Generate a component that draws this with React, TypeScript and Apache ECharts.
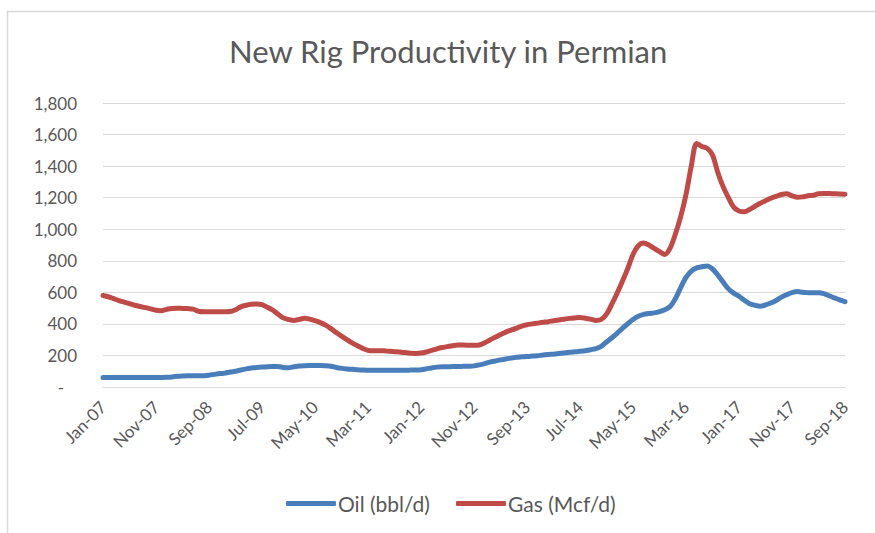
import React, { useEffect, useRef } from "react";
import * as echarts from "echarts";

const MONTHS = ["Jan", "Feb", "Mar", "Apr", "May", "Jun", "Jul", "Aug", "Sep", "Oct", "Nov", "Dec"];
const START_YEAR = 2007;
const MONTH_COUNT = 141; // Jan-07 .. Sep-18

const categories: string[] = [];
for (let i = 0; i < MONTH_COUNT; i++) {
  const m = i % 12;
  const y = START_YEAR + Math.floor(i / 12);
  categories.push(`${MONTHS[m]}-${String(y % 100).padStart(2, "0")}`);
}

const oilValues = [
  60, 60, 60, 60, 60, 60, 60, 60, 60, 61,
  61, 61, 62, 64, 68, 70, 71, 71, 71, 72,
  75, 80, 85, 88, 95, 100, 108, 115, 120, 124,
  127, 129, 130, 130, 124, 122, 128, 133, 135, 136,
  136, 136, 135, 132, 124, 118, 114, 112, 109, 107,
  106, 106, 106, 106, 106, 106, 106, 106, 107, 108,
  110, 115, 121, 126, 128, 128, 130, 130, 131, 132,
  134, 140, 148, 158, 165, 172, 178, 183, 188, 191,
  194, 196, 198, 203, 206, 208, 212, 216, 220, 223,
  226, 230, 236, 244, 258, 285, 312, 340, 372, 400,
  428, 448, 460, 466, 470, 478, 490, 510, 560, 630,
  695, 735, 755, 762, 767, 748, 710, 665, 622, 595,
  575, 550, 528, 518, 512, 520, 532, 548, 570, 585,
  598, 605, 600, 598, 597, 597, 592, 578, 565, 552,
  541,
];

const gasValues = [
  580, 572, 560, 548, 538, 528, 518, 510, 503, 495,
  486, 484, 492, 498, 499, 498, 497, 494, 480, 477,
  477, 477, 477, 477, 478, 490, 508, 518, 524, 526,
  522, 505, 488, 462, 438, 428, 422, 428, 435, 430,
  420, 408, 392, 370, 345, 322, 300, 280, 262, 245,
  232, 229, 230, 229, 226, 224, 222, 218, 214, 213,
  215, 222, 232, 242, 250, 256, 262, 266, 266, 265,
  264, 266, 280, 298, 315, 332, 348, 361, 372, 386,
  395, 400, 405, 410, 414, 420, 425, 430, 435, 438,
  440, 436, 430, 422, 428, 462, 525, 594, 670, 750,
  840, 895, 912, 900, 878, 858, 840, 880, 970, 1080,
  1220, 1400, 1544, 1525, 1512, 1470, 1360, 1270, 1200, 1140,
  1115, 1110, 1125, 1145, 1165, 1180, 1196, 1208, 1220, 1225,
  1212, 1203, 1205, 1212, 1215, 1225, 1226, 1226, 1225, 1224,
  1222,
];

const yTicks = { min: 0, max: 1800, interval: 200 };
const seriesNames = ["Oil (bbl/d)", "Gas (Mcf/d)"];
const FONT = "Lato, 'Open Sans', sans-serif";
const TEXT = "#595959";

export default function App() {
  const ref = useRef<HTMLDivElement>(null);
  useEffect(() => {
    if (!ref.current) return;
    const chart = echarts.init(ref.current, undefined, { renderer: "svg" });
    chart.setOption({
      animation: false,
      backgroundColor: "#ffffff",
      title: {
        text: "New Rig Productivity in Permian",
        left: 224,
        top: 30,
        textStyle: { fontFamily: FONT, fontSize: 31, fontWeight: "normal", color: TEXT },
      },
      graphic: [
        {
          type: "rect",
          shape: { x: 7.5, y: 11.5, width: 880, height: 540 },
          style: { fill: "none", stroke: "#d9d9d9", lineWidth: 1.5 },
          silent: true,
        },
      ],
      legend: {
        bottom: 14,
        left: 281,
        itemWidth: 50,
        itemHeight: 5,
        itemGap: 26,
        icon: "roundRect",
        textStyle: { fontFamily: FONT, fontSize: 21, color: TEXT, padding: [0, 0, 0, -3] },
        data: seriesNames,
      },
      grid: { left: 103, right: 30, top: 103, bottom: 146, containLabel: false },
      xAxis: {
        type: "category",
        data: categories,
        boundaryGap: false,
        axisLine: { show: true, lineStyle: { color: "#d9d9d9", width: 1 } },
        axisTick: { show: false },
        axisLabel: {
          interval: 9,
          rotate: 45,
          margin: 17,
          fontFamily: FONT,
          fontSize: 17,
          color: TEXT,
        },
      },
      yAxis: {
        type: "value",
        min: yTicks.min,
        max: yTicks.max,
        interval: yTicks.interval,
        axisLine: { show: false },
        axisTick: { show: false },
        splitLine: { lineStyle: { color: "#d9d9d9", width: 1 } },
        axisLabel: {
          margin: 26,
          fontFamily: FONT,
          fontSize: 17,
          color: TEXT,
          formatter: (v: number) => (v === 0 ? "-   " : v.toLocaleString("en-US")),
        },
      },
      series: [
        {
          name: seriesNames[0],
          type: "line",
          data: oilValues,
          showSymbol: false,
          smooth: 0.3,
          color: "#4a7ebb",
          lineStyle: { width: 5, color: "#4a7ebb", cap: "round" },
        },
        {
          name: seriesNames[1],
          type: "line",
          data: gasValues,
          showSymbol: false,
          smooth: 0.3,
          color: "#be4b48",
          lineStyle: { width: 5, color: "#be4b48", cap: "round" },
        },
      ],
    });
    return () => chart.dispose();
  }, []);
  return (
    <div
      ref={ref}
      style={{ position: "fixed", left: 0, top: 0, width: 875, height: 533 }}
    />
  );
}
